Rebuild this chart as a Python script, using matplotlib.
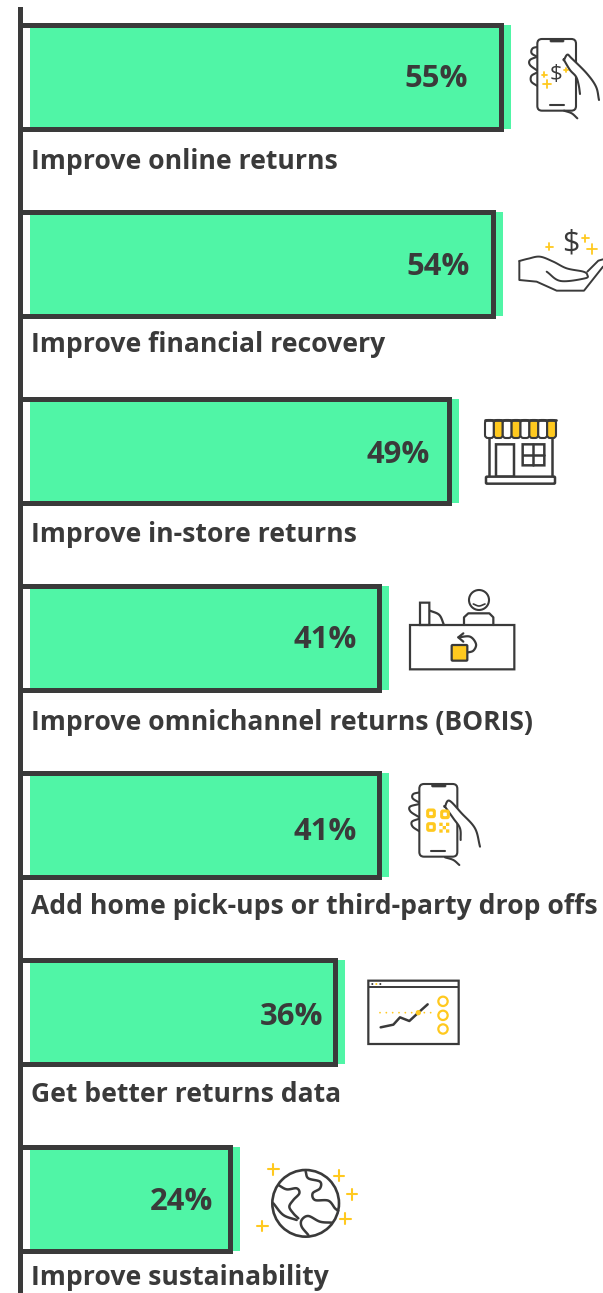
import matplotlib
matplotlib.use('Agg')
import matplotlib.pyplot as plt
import numpy as np
from matplotlib.patches import Circle, FancyBboxPatch, Polygon
from matplotlib.transforms import Affine2D

# data
categories = ['Improve online returns', 'Improve financial recovery', 'Improve in-store returns',
              'Improve omnichannel returns (BORIS)', 'Add home pick-ups or third-party drop offs',
              'Get better returns data', 'Improve sustainability']
values = [55, 54, 49, 41, 41, 36, 24]

# layout, in pixels of the final image
W, H = 603, 1293
X0 = 19.5
PX_PER_PCT = 8.76
Y0 = 76.7
ROW = 187.0
BAR_H = 104.0
label_base = [169, 352, 542, 730, 914, 1102, 1285]
value_right = [468, 470, 430, 357, 357, 323, 213]
value_base = [87, 275, 463, 648, 840, 1025, 1210]

DARK = '#3a3a3a'
GREEN = '#50f5a6'
YELLOW = '#ffc91f'
FONT = 'Open Sans'

fig = plt.figure(figsize=(W / 100, H / 100), dpi=100)
ax = fig.add_axes([0, 0, 1, 1])
ax.set_xlim(-X0 / PX_PER_PCT, (W - X0) / PX_PER_PCT)
ax.set_ylim((H - Y0) / ROW, -Y0 / ROW)
ax.axis('off')

rows = np.arange(len(values))
shift = ax.transData + Affine2D().translate(10, 0)
ax.barh(rows, values, height=BAR_H / ROW, color=GREEN, transform=shift, zorder=1)
ax.barh(rows, values, height=BAR_H / ROW, facecolor='none', edgecolor=DARK, linewidth=3.6,
        joinstyle='miter', zorder=2)
ax.axvline(0, ymin=0, ymax=1 - 9 / H, color=DARK, linewidth=3.6, zorder=3)

# overlay in pixel coordinates for texts and icons
ic = fig.add_axes([0, 0, 1, 1])
ic.set_xlim(0, W)
ic.set_ylim(H, 0)
ic.axis('off')
ic.patch.set_alpha(0)

for name, base in zip(categories, label_base):
    ic.text(31, base, name, fontsize=19.05, fontweight='bold', family=FONT, color=DARK, va='baseline')
for v, r, base in zip(values, value_right, value_base):
    ic.text(r, base, f'{v}%', fontsize=22.3, fontweight='bold', family=FONT, color=DARK,
            ha='right', va='baseline')


def smooth(pts, n=12):
    # catmull-rom through the given points
    p = np.array(pts, float)
    if len(p) < 3:
        return p
    p = np.vstack([2 * p[0] - p[1], p, 2 * p[-1] - p[-2]])
    out = []
    for i in range(1, len(p) - 2):
        for t in np.linspace(0, 1, n, endpoint=False):
            a, b, c, d = p[i - 1], p[i], p[i + 1], p[i + 2]
            out.append(0.5 * (2 * b + (c - a) * t + (2 * a - 5 * b + 4 * c - d) * t ** 2
                              + (3 * b - a - 3 * c + d) * t ** 3))
    out.append(p[-2])
    return np.array(out)


class Icon:
    # coordinates are typed as read in a 3x crop starting at (ox, oy)
    def __init__(self, ox, oy):
        self.ox, self.oy = ox, oy

    def xy(self, pts):
        return np.array(pts, float) / 3 + [self.ox, self.oy]

    def line(self, pts, lw=1.5, color=DARK, curve=True, z=5, fill=None, **kw):
        q = self.xy(pts)
        q = smooth(q) if curve else q
        if fill:
            ic.add_patch(Polygon(q, closed=True, fc=fill, ec='none', zorder=z))
        ic.plot(q[:, 0], q[:, 1], color=color, lw=lw, zorder=z, solid_capstyle='round',
                solid_joinstyle='round', **kw)

    def plus(self, x, y, arm=10, lw=1.3):
        self.line([(x - arm, y), (x + arm, y)], lw=lw, color=YELLOW, curve=False)
        self.line([(x, y - arm), (x, y + arm)], lw=lw, color=YELLOW, curve=False)

    def box(self, x1, y1, x2, y2, round_=0, fc='none', ec=DARK, lw=1.5, z=5):
        (a, b), (c, d) = self.xy([(x1, y1), (x2, y2)])
        ic.add_patch(FancyBboxPatch((a, b), c - a, d - b, boxstyle=f'round,pad=0,rounding_size={round_ / 3}',
                                    fc=fc, ec=ec, lw=lw, zorder=z))

    def dot(self, x, y, r, fc='none', ec=DARK, lw=1.5, z=5):
        ic.add_patch(Circle(self.xy([(x, y)])[0], r / 3, fc=fc, ec=ec, lw=lw, zorder=z))

    def dollar(self, x, y, size):
        c = self.xy([(x, y)])[0]
        ic.text(c[0], c[1], '$', fontsize=size, family=FONT, color=DARK, ha='center', va='center', zorder=8)


def phone(i, bx, notch, home_y, fingers, f_top, f_low, wrist):
    x1, y1, x2, y2 = bx
    for f in fingers:
        i.line(f)
    i.box(x1, y1, x2, y2, round_=14, fc='white', z=5)
    i.box(notch[0], y1 + 2, notch[1], y1 + 9, round_=3, fc=DARK, lw=0.5, z=6)
    i.line([((x1 + x2) / 2 - 21, home_y), ((x1 + x2) / 2 + 21, home_y)], curve=False, z=6)
    i.line(wrist)
    i.line(f_low[::-1] + f_top, fill='white', z=7)


# online returns phone
i = Icon(490, 20)
phone(i, (142, 57, 258, 272), (180, 222), 255,
      [[(147, 80), (128, 85), (125, 100), (145, 112)],
       [(142, 110), (120, 120), (120, 135), (142, 152)],
       [(140, 158), (124, 168), (124, 185), (142, 198)]],
      [(222, 120), (232, 104), (245, 115), (290, 160), (318, 200), (327, 240)],
      [(222, 120), (240, 150), (258, 170), (266, 195), (270, 222)],
      [(222, 272), (245, 280), (262, 295)])
i.dollar(198, 163, 16)
i.plus(163, 164, 7)
i.plus(171, 192, 11)
i.plus(228, 150, 7)

# hand with coin
i = Icon(440, 200)
i.line([(320, 215), (362, 243), (435, 235), (442, 225), (430, 215), (380, 205), (340, 185), (300, 170),
        (265, 176), (238, 183)], lw=1.4)
i.line([(238, 183), (238, 240), (290, 245), (350, 272), (432, 272), (489, 200)], lw=1.4, curve=False)
i.line([(442, 215), (475, 182), (489, 178)], lw=1.4, curve=False)
i.dollar(392, 130, 22)
i.plus(328, 140, 10)
i.plus(436, 115, 10)
i.plus(457, 146, 15)

# store
i = Icon(440, 200)
stripe = (348 - 135) / 8
for k in range(8):
    x = 135 + k * stripe
    i.box(x, 660, x + stripe, 714, round_=9, fc=YELLOW if k % 2 else 'white', lw=1.5)
i.line([(135, 660), (348, 660)], lw=2, curve=False)
i.line([(147, 714), (147, 830)], lw=1.8, curve=False)
i.line([(337, 714), (337, 830)], lw=1.8, curve=False)
i.box(168, 733, 222, 830, lw=1.8)
i.box(248, 733, 313, 796, lw=1.8)
i.line([(280, 733), (280, 796)], lw=1.8, curve=False)
i.line([(248, 765), (313, 765)], lw=1.8, curve=False)
i.box(138, 830, 345, 851, round_=3, fc='white', lw=1.8)

# returns desk
i = Icon(390, 580)
i.box(60, 135, 373, 268, lw=1.6)
i.dot(267, 60, 30)
i.line([(250, 72), (267, 78), (285, 72)], lw=1.2)
i.line([(222, 135), (222, 112), (235, 100), (298, 100), (310, 112), (310, 135)], lw=1.6, curve=False)
i.box(90, 68, 118, 135, lw=1.6)
i.line([(120, 92), (148, 105), (162, 135)], lw=1.6)
i.line([(205, 172), (240, 170), (258, 192), (250, 212), (230, 218)], lw=1.6)
i.line([(220, 160), (205, 172), (220, 185)], lw=1.6, curve=False)
i.box(185, 195, 232, 242, round_=3, fc=YELLOW, lw=1.6)

# qr phone
i = Icon(390, 580)
phone(i, (88, 612, 202, 830), (125, 168), 813,
      [[(90, 637), (70, 642), (68, 655), (88, 668)],
       [(88, 672), (60, 680), (62, 695), (88, 712)],
       [(88, 716), (66, 725), (68, 740), (88, 754)]],
      [(165, 680), (178, 662), (215, 700), (255, 745), (270, 800)],
      [(165, 680), (190, 715), (210, 745), (212, 780)],
      [(165, 832), (190, 840), (208, 855)])
for cx, cy in [(123, 700), (165, 703), (123, 741)]:
    i.box(cx - 10, cy - 10, cx + 10, cy + 10, round_=4, ec=YELLOW, lw=2.2, z=8)
for cx, cy in [(153, 733), (173, 733), (163, 743), (153, 753), (173, 753)]:
    i.box(cx - 5, cy - 5, cx + 5, cy + 5, fc=YELLOW, ec='none', lw=0, z=6)

# dashboard window
i = Icon(240, 960)
i.box(385, 62, 656, 252, lw=1.6)
i.line([(387, 82), (654, 82)], lw=1.4, curve=False)
for x, c in [(397, DARK), (409, YELLOW), (421, DARK)]:
    i.dot(x, 72, 3, fc=c, ec='none', lw=0)
i.line([(422, 202), (460, 194), (480, 172), (508, 183), (535, 158), (563, 133)], lw=1.8, curve=False)
for x in range(420, 580, 19):
    i.dot(x, 158, 2.6, fc=YELLOW, ec='none', lw=0, z=6)
i.dot(535, 158, 8, fc=YELLOW, ec='none', lw=0, z=6)
for y in (124, 166, 207):
    i.dot(609, y, 14, ec=YELLOW, lw=1.6)

# globe
i = Icon(240, 960)
i.dot(197, 730, 100, lw=1.9)
i.line([(115, 675), (140, 688), (170, 685), (178, 700), (160, 720), (148, 740), (160, 760), (175, 775)], lw=1.8)
i.line([(100, 730), (130, 765), (170, 780)], lw=1.8)
i.line([(197, 635), (205, 655), (240, 665), (240, 685), (218, 700), (225, 720), (265, 722), (285, 745), (295, 752)], lw=1.8)
i.line([(275, 788), (240, 785), (205, 768), (185, 780), (185, 800), (205, 825)], lw=1.8)
for x, y in [(100, 628), (297, 647), (336, 703), (316, 776), (67, 798)]:
    i.plus(x, y, 16, lw=1.5)

fig.savefig('out.png', dpi=100)
